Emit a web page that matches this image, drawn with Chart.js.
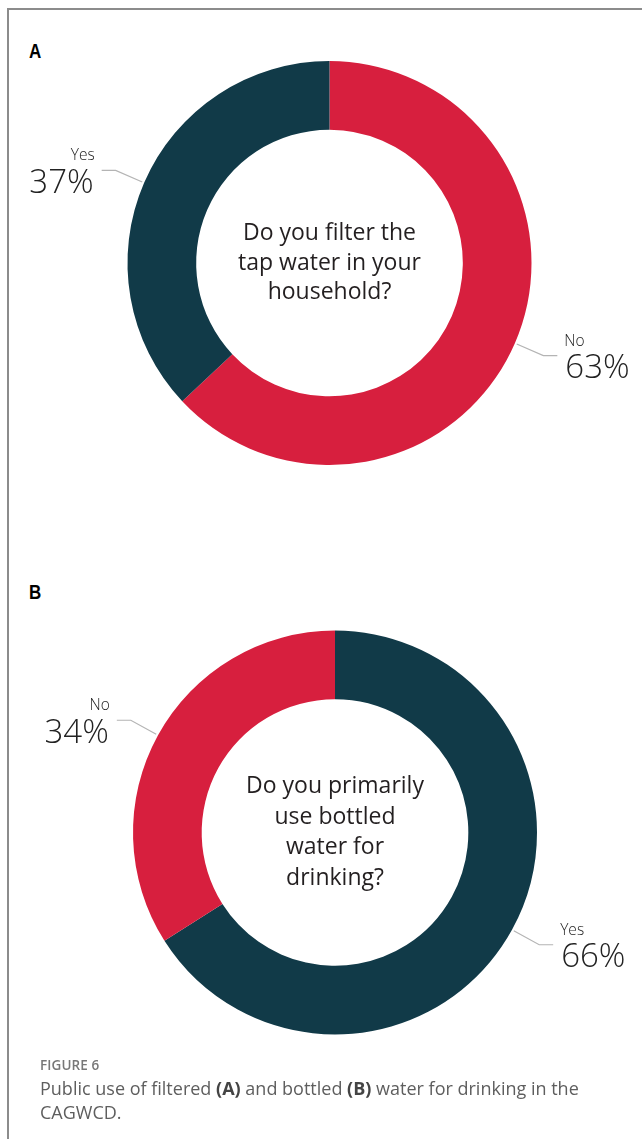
<!DOCTYPE html>
<html>
<head>
<meta charset="utf-8">
<script src="https://cdn.jsdelivr.net/npm/chart.js@4/dist/chart.umd.min.js"></script>
<style>
  html, body { margin: 0; padding: 0; background: #fff; }
  body { width: 642px; height: 1139px; position: relative; overflow: hidden; }
  .frame {
    position: absolute; left: 7px; top: 8px; right: -4px; bottom: -4px;
    border-top: 2px solid #8c8c8c; border-left: 2px solid #8c8c8c;
  }
  .panel {
    position: absolute; left: 29px;
    font-family: "Liberation Sans", Arial, sans-serif; font-weight: bold;
    font-size: 20px; color: #000; transform: scaleX(0.85); transform-origin: left;
  }
  canvas { position: absolute; left: 0; }
  .caption {
    position: absolute; left: 40px; top: 1056px; width: 590px;
    font-family: "Open Sans", "Noto Sans", sans-serif; color: #5e5e5e;
  }
  .caption .fig { font-size: 13.5px; font-weight: 600; color: #777; letter-spacing: 0.1px; }
  .caption .txt { font-size: 18px; line-height: 24px; margin-top: 2px; }
  .caption b { font-weight: 700; color: #444; }
</style>
</head>
<body>
<div class="frame"></div>
<div class="panel" style="top:40px">A</div>
<div class="panel" style="top:581px">B</div>
<canvas id="chartA" width="642" height="520" style="top:0"></canvas>
<canvas id="chartB" width="642" height="520" style="top:560px"></canvas>
<div class="caption">
  <div class="fig">FIGURE 6</div>
  <div class="txt">Public use of filtered <b>(A)</b> and bottled <b>(B)</b> water for drinking in the CAGWCD.</div>
</div>
<script>
// Panel A: filtering tap water
const labelsA = ['No', 'Yes'];
const valuesA = [63, 37];
const questionA = ['Do you filter the', 'tap water in your', 'household?'];

// Panel B: bottled water for drinking
const labelsB = ['Yes', 'No'];
const valuesB = [66, 34];
const questionB = ['Do you primarily', 'use bottled', 'water for', 'drinking?'];

const RED = '#d71f3e';
const NAVY = '#113a48';

// centre question + callout labels with leader lines
const calloutPlugin = {
  id: 'callouts',
  afterDraw(chart, args, opts) {
    const ctx = chart.ctx;
    const meta = chart.getDatasetMeta(0);
    const values = chart.data.datasets[0].data;
    const first = meta.data[0];
    const cx = first.x, cy = first.y;

    ctx.save();
    ctx.fillStyle = '#231f20';
    ctx.font = '400 23px "Open Sans", "Noto Sans", sans-serif';
    ctx.textAlign = 'center';
    ctx.textBaseline = 'middle';
    const lines = opts.question;
    const lh = opts.lineHeight;
    lines.forEach((line, i) => {
      ctx.fillText(line, cx, cy + (i - (lines.length - 1) / 2) * lh);
    });

    meta.data.forEach((arc, i) => {
      const p = arc.getProps(['startAngle', 'endAngle', 'outerRadius'], true);
      const mid = (p.startAngle + p.endAngle) / 2;
      const r = p.outerRadius;
      const dx = Math.cos(mid), dy = Math.sin(mid);
      const x0 = cx + dx * (r + 2), y0 = cy + dy * (r + 2);
      const x1 = cx + dx * (r + 31), y1 = cy + dy * (r + 31);
      const side = dx < 0 ? -1 : 1;
      const x2 = x1 + side * 14;

      ctx.strokeStyle = '#b4b4b4';
      ctx.lineWidth = 1.2;
      ctx.beginPath();
      ctx.moveTo(x0, y0);
      ctx.lineTo(x1, y1);
      ctx.lineTo(x2, y1);
      ctx.stroke();

      const tx = x2 + side * 8;
      ctx.textAlign = side < 0 ? 'right' : 'left';
      ctx.textBaseline = 'alphabetic';
      ctx.fillStyle = '#222';
      ctx.font = '300 33px "Open Sans", "Noto Sans", sans-serif';
      ctx.fillText(values[i] + '%', tx, y1 + 22.5);
      ctx.font = '300 15.5px "Open Sans", "Noto Sans", sans-serif';
      ctx.fillText(chart.data.labels[i], tx + side * -1, y1 - 10);
    });
    ctx.restore();
  }
};

function makeDonut(id, labels, values, colors, question, lineHeight, padding) {
  return new Chart(document.getElementById(id), {
    type: 'doughnut',
    data: {
      labels: labels,
      datasets: [{
        data: values,
        backgroundColor: colors,
        borderWidth: 0,
      }],
    },
    options: {
      responsive: false,
      animation: false,
      cutout: '66%',
      layout: { padding: padding },
      plugins: {
        legend: { display: false },
        tooltip: { enabled: false },
        callouts: { question: question, lineHeight: lineHeight },
      },
    },
    plugins: [calloutPlugin],
  });
}

makeDonut('chartA', labelsA, valuesA, [RED, NAVY], questionA, 29.5,
  { left: 127.5, right: 110.5, top: 61, bottom: 55 });
makeDonut('chartB', labelsB, valuesB, [NAVY, RED], questionB, 30.5,
  { left: 133, right: 105, top: 70.5, bottom: 45.5 });
</script>
</body>
</html>
